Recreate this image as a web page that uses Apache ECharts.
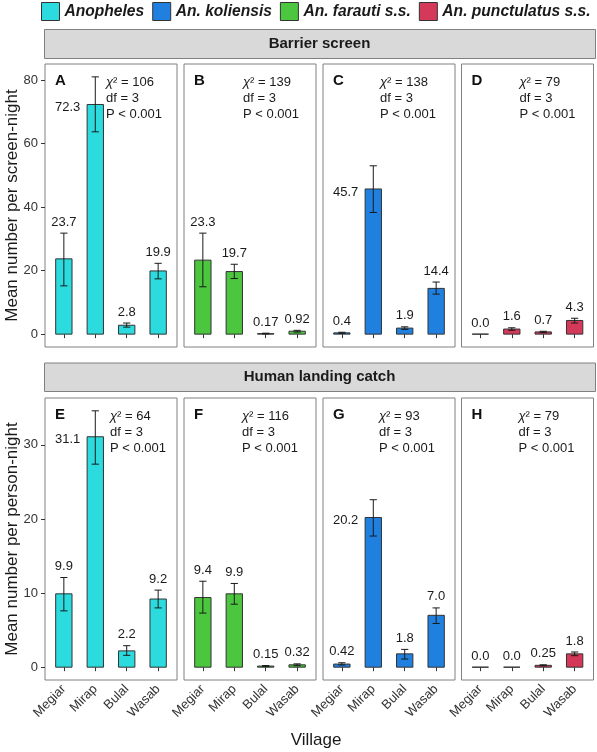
<!DOCTYPE html>
<html>
<head>
<meta charset="utf-8">
<script src="https://cdn.jsdelivr.net/npm/echarts@6/dist/echarts.min.js"></script>
<style>
html,body{margin:0;padding:0;background:#fff;}
#chart{width:597px;height:752px;}
</style>
</head>
<body>
<div id="chart"></div>
<script>
// ---------------- data ----------------
const villages = ['Megiar', 'Mirap', 'Bulal', 'Wasab'];
const speciesNames = ['Anopheles', 'An. koliensis', 'An. farauti s.s.', 'An. punctulatus s.s.'];
const speciesColors = ['#2bdbde', '#1f80e0', '#4cc63e', '#d5395a'];
const rowTitles = ['Barrier screen', 'Human landing catch'];
const yTitles = ['Mean number per screen-night', 'Mean number per person-night'];
const yTicksTop = [0, 20, 40, 60, 80];
const yTicksBottom = [0, 10, 20, 30];
const panelLetters = ['A', 'B', 'C', 'D', 'E', 'F', 'G', 'H'];
// species index per panel column: Anopheles, farauti, koliensis, punctulatus
const panelSpecies = [0, 2, 1, 3];

// Barrier screen (per screen-night)
const bsAnophelesMean = [23.7, 72.3, 2.8, 19.9];
const bsAnophelesLow  = [15.2, 63.7, 2.2, 17.4];
const bsAnophelesHigh = [31.8, 81.0, 3.5, 22.3];
const bsAnophelesText = ['23.7', '72.3', '2.8', '19.9'];

const bsFarautiMean = [23.3, 19.7, 0.17, 0.92];
const bsFarautiLow  = [14.9, 17.5, 0.06, 0.65];
const bsFarautiHigh = [31.8, 22.0, 0.3, 1.2];
const bsFarautiText = ['23.3', '19.7', '0.17', '0.92'];

const bsKoliensisMean = [0.4, 45.7, 1.9, 14.4];
const bsKoliensisLow  = [0.25, 38.3, 1.5, 12.6];
const bsKoliensisHigh = [0.6, 53.0, 2.3, 16.4];
const bsKoliensisText = ['0.4', '45.7', '1.9', '14.4'];

const bsPunctulatusMean = [0.0, 1.6, 0.7, 4.3];
const bsPunctulatusLow  = [0.0, 1.2, 0.5, 3.5];
const bsPunctulatusHigh = [0.0, 2.0, 0.9, 5.0];
const bsPunctulatusText = ['0.0', '1.6', '0.7', '4.3'];

// Human landing catch (per person-night)
const hlcAnophelesMean = [9.9, 31.1, 2.2, 9.2];
const hlcAnophelesLow  = [7.6, 27.4, 1.6, 8.0];
const hlcAnophelesHigh = [12.1, 34.6, 2.9, 10.4];
const hlcAnophelesText = ['9.9', '31.1', '2.2', '9.2'];

const hlcFarautiMean = [9.4, 9.9, 0.15, 0.32];
const hlcFarautiLow  = [7.3, 8.5, 0.08, 0.2];
const hlcFarautiHigh = [11.6, 11.3, 0.22, 0.45];
const hlcFarautiText = ['9.4', '9.9', '0.15', '0.32'];

const hlcKoliensisMean = [0.42, 20.2, 1.8, 7.0];
const hlcKoliensisLow  = [0.3, 17.7, 1.1, 5.9];
const hlcKoliensisHigh = [0.6, 22.6, 2.4, 8.0];
const hlcKoliensisText = ['0.42', '20.2', '1.8', '7.0'];

const hlcPunctulatusMean = [0.0, 0.0, 0.25, 1.8];
const hlcPunctulatusLow  = [0.0, 0.0, 0.18, 1.55];
const hlcPunctulatusHigh = [0.0, 0.0, 0.32, 2.05];
const hlcPunctulatusText = ['0.0', '0.0', '0.25', '1.8'];

const chiSquare = ['106', '139', '138', '79', '64', '116', '93', '79'];
const dfText = 'df = 3';
const pText = 'P < 0.001';

// ---------------- layout ----------------
const FONT = '"Liberation Sans", Arial, sans-serif';
const colLeft = [45, 184, 323, 461.5];
const panelW = 132;
const rowTop = [64, 398];
const rowH = [283, 282];
const statOffset = [61, 59, 57, 58, 65, 58, 56, 57];

const panels = [
  [bsAnophelesMean, bsAnophelesLow, bsAnophelesHigh, bsAnophelesText],
  [bsFarautiMean, bsFarautiLow, bsFarautiHigh, bsFarautiText],
  [bsKoliensisMean, bsKoliensisLow, bsKoliensisHigh, bsKoliensisText],
  [bsPunctulatusMean, bsPunctulatusLow, bsPunctulatusHigh, bsPunctulatusText],
  [hlcAnophelesMean, hlcAnophelesLow, hlcAnophelesHigh, hlcAnophelesText],
  [hlcFarautiMean, hlcFarautiLow, hlcFarautiHigh, hlcFarautiText],
  [hlcKoliensisMean, hlcKoliensisLow, hlcKoliensisHigh, hlcKoliensisText],
  [hlcPunctulatusMean, hlcPunctulatusLow, hlcPunctulatusHigh, hlcPunctulatusText]
];

const rowMax = [0, 1].map(r => Math.max(...panels.slice(r * 4, r * 4 + 4).flatMap(p => p[2])));

const grids = [], xAxes = [], yAxes = [], series = [];

for (let i = 0; i < 8; i++) {
  const r = Math.floor(i / 4), c = i % 4;
  const M = rowMax[r];
  grids.push({
    left: colLeft[c], top: rowTop[r], width: panelW, height: rowH[r],
    show: true, borderColor: '#808080', borderWidth: 1, backgroundColor: 'transparent'
  });
  xAxes.push({
    gridIndex: i, type: 'value', min: 0.4, max: 4.6,
    axisLine: { show: false }, splitLine: { show: false },
    axisTick: { show: true, customValues: [1, 2, 3, 4], length: 4, lineStyle: { color: '#333' } },
    axisLabel: {
      show: r === 1, customValues: [1, 2, 3, 4], rotate: 45, margin: 7,
      formatter: v => villages[Math.round(v) - 1],
      fontSize: 13, fontFamily: FONT, color: '#333'
    }
  });
  const ticks = r === 0 ? yTicksTop : yTicksBottom;
  yAxes.push({
    gridIndex: i, type: 'value', min: -0.05 * M, max: 1.05 * M,
    axisLine: { show: false }, splitLine: { show: false },
    axisTick: { show: c === 0, customValues: ticks, length: 4, lineStyle: { color: '#333' } },
    axisLabel: {
      show: c === 0, customValues: ticks, margin: 7,
      fontSize: 13, fontFamily: FONT, color: '#333'
    }
  });

  const sp = panelSpecies[c];
  const color = speciesColors[sp];
  const p = panels[i];
  const data = villages.map((v, k) => [k + 1, p[0][k], p[1][k], p[2][k]]);
  const labels = p[3];
  const letter = panelLetters[i];
  const chi = chiSquare[i];
  const sOff = statOffset[i];

  series.push({
    type: 'custom', name: speciesNames[sp],
    xAxisIndex: i, yAxisIndex: i,
    itemStyle: { color: color, borderColor: '#333', borderWidth: 1 },
    encode: { x: 0, y: 1 },
    data: data,
    clip: false,
    renderItem: function (params, api) {
      const x = api.value(0), v = api.value(1), lo = api.value(2), hi = api.value(3);
      const base = api.coord([x, 0]);
      const top = api.coord([x, v]);
      const bw = api.size([0.52, 0])[0];
      const cw = api.size([0.23, 0])[0];
      const cx = base[0];
      const children = [{
        type: 'rect',
        shape: { x: cx - bw / 2, y: top[1], width: bw, height: base[1] - top[1] },
        style: { fill: color, stroke: '#333', lineWidth: 1 }
      }];
      if (hi > lo) {
        const ph = api.coord([x, hi])[1], pl = api.coord([x, lo])[1];
        const ls = { stroke: '#1a1a1a', lineWidth: 1 };
        children.push({ type: 'line', shape: { x1: cx, y1: ph, x2: cx, y2: pl }, style: ls });
        children.push({ type: 'line', shape: { x1: cx - cw / 2, y1: ph, x2: cx + cw / 2, y2: ph }, style: ls });
        children.push({ type: 'line', shape: { x1: cx - cw / 2, y1: pl, x2: cx + cw / 2, y2: pl }, style: ls });
      }
      const idx = params.dataIndex;
      const txtStyle = { fill: '#1a1a1a', font: '13px ' + FONT };
      if (hi / M > 0.5) {
        children.push({ type: 'text', style: Object.assign({ text: labels[idx], x: cx - 15, y: top[1] + 3, align: 'right', verticalAlign: 'middle' }, txtStyle) });
      } else {
        const yy = api.coord([x, Math.max(hi, v)])[1] - 11;
        children.push({ type: 'text', style: Object.assign({ text: labels[idx], x: cx, y: yy, align: 'center', verticalAlign: 'middle' }, txtStyle) });
      }
      if (idx === 0) {
        const cs = params.coordSys;
        children.push({ type: 'text', style: { text: letter, x: cs.x + 10, y: cs.y + 17, align: 'left', verticalAlign: 'middle', fill: '#111', font: 'bold 15px ' + FONT } });
        children.push({ type: 'text', style: {
          text: '{c|χ}² = ' + chi, x: cs.x + sOff, y: cs.y + 18, align: 'left', verticalAlign: 'middle',
          fill: '#1a1a1a', font: '13px ' + FONT,
          rich: { c: { fontStyle: 'italic', fontSize: 13, fontFamily: FONT, fill: '#1a1a1a' } }
        } });
        children.push({ type: 'text', style: Object.assign({ text: dfText, x: cs.x + sOff, y: cs.y + 34, align: 'left', verticalAlign: 'middle' }, txtStyle) });
        children.push({ type: 'text', style: Object.assign({ text: pText, x: cs.x + sOff, y: cs.y + 50, align: 'left', verticalAlign: 'middle' }, txtStyle) });
      }
      return { type: 'group', children: children };
    }
  });
}

const graphics = [];
const stripY = [29, 362.5], stripH = [29, 28.5];
for (let r = 0; r < 2; r++) {
  graphics.push({ type: 'rect', left: 44, top: stripY[r], shape: { width: 551, height: stripH[r] },
    style: { fill: '#d9d9d9', stroke: '#808080', lineWidth: 1 } });
  graphics.push({ type: 'text', x: 319.5, y: stripY[r] + stripH[r] / 2,
    style: { text: rowTitles[r], align: 'center', verticalAlign: 'middle', font: 'bold 15px ' + FONT, fill: '#1a1a1a' } });
  graphics.push({ type: 'text', x: 12, y: rowTop[r] + rowH[r] / 2, rotation: Math.PI / 2,
    style: { text: yTitles[r], align: 'center', verticalAlign: 'middle', font: '17px ' + FONT, fill: '#1a1a1a' } });
}
graphics.push({ type: 'text', x: 316, y: 740,
  style: { text: 'Village', align: 'center', verticalAlign: 'middle', font: '17px ' + FONT, fill: '#1a1a1a' } });

const chart = echarts.init(document.getElementById('chart'), null, { renderer: 'canvas' });
chart.setOption({
  animation: false,
  backgroundColor: '#fff',
  legend: {
    data: speciesNames, left: 41, top: 2, padding: 0, itemWidth: 18, itemHeight: 18, itemGap: 8,
    icon: 'rect',
    itemStyle: { borderColor: '#333', borderWidth: 1 },
    textStyle: { fontSize: 15.6, fontWeight: 'bold', fontStyle: 'italic', fontFamily: FONT, color: '#1a1a1a' },
    selectedMode: false
  },
  grid: grids, xAxis: xAxes, yAxis: yAxes, series: series,
  graphic: graphics
});
</script>
</body>
</html>
